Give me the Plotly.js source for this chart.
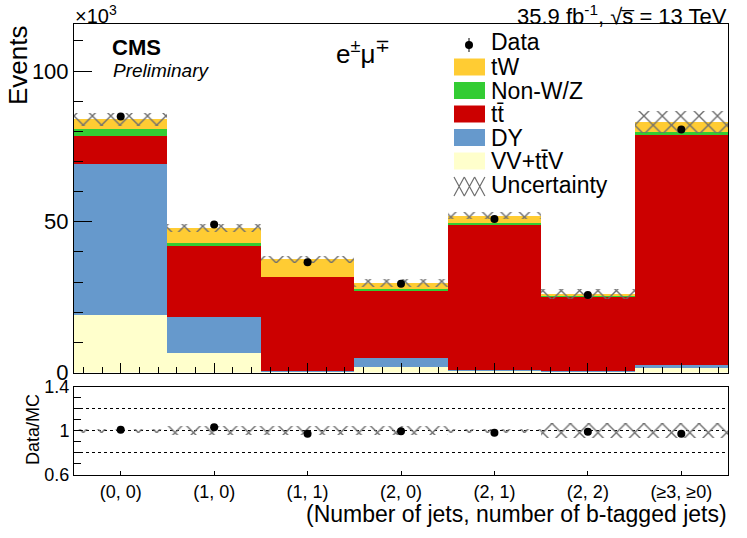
<!DOCTYPE html>
<html>
<head>
<meta charset="utf-8">
<script src="https://cdn.plot.ly/plotly-3.0.1.min.js"></script>
<style>html,body{margin:0;padding:0;background:#fff;}#chart{width:747px;height:538px;}</style>
</head>
<body>
<div id="chart"></div>
<script>
// ---- data (values in units of 10^3 events) ----
const categories = ['(0, 0)', '(1, 0)', '(1, 1)', '(2, 0)', '(2, 1)', '(2, 2)', '(\u22653, \u22650)'];
const vvttv = [19.0, 6.4, 0.3, 1.9, 0.4, 0.2, 1.4];
const dy    = [50.2, 11.9, 0.3, 3.0, 0.3, 0.2, 1.1];
const ttbar = [9.1, 23.7, 31.0, 22.3, 48.3, 24.8, 76.3];
const nonwz = [2.6, 0.9, 0.2, 0.6, 0.5, 0.1, 0.9];
const tw    = [3.1, 5.1, 5.8, 1.8, 2.5, 0.8, 3.3];
const dataVals = [84.9, 49.1, 36.6, 29.4, 50.9, 25.7, 80.6];
const dataErr  = [0.3, 0.2, 0.2, 0.2, 0.2, 0.2, 0.3];
const mcUnc    = [2.2, 1.3, 1.2, 1.3, 1.1, 1.6, 3.6];
const ratioVals = [1.009, 1.033, 0.973, 0.997, 0.982, 0.991, 0.973];
const ratioUnc  = [0.015, 0.04, 0.04, 0.04, 0.015, 0.068, 0.068];

const FONT = 'Liberation Sans, Arial, Helvetica, sans-serif';
const xIdx = categories.map((_, i) => i);

// pixel -> paper helpers (plot area: x 74..728, y 24..475)
const L = 74, R = 19, T = 24, B = 63, W = 747, H = 538;
const PW = W - L - R, PH = H - T - B;
const px = x => (x - L) / PW;
const py = y => (H - B - y) / PH;

const comps = [
  {name: 'VV+tt\u0304V', vals: vvttv, color: '#ffffcc'},
  {name: 'DY', vals: dy, color: '#6699cc'},
  {name: 'tt\u0304', vals: ttbar, color: '#cc0000'},
  {name: 'Non-W/Z', vals: nonwz, color: '#33cc33'},
  {name: 'tW', vals: tw, color: '#ffcc33'}
];

const traces = [];
let cum = categories.map(() => 0);
comps.forEach(c => {
  traces.push({
    type: 'bar', x: xIdx, y: c.vals, base: cum.slice(), width: 1,
    marker: {color: c.color, line: {width: 0}}, name: c.name,
    xaxis: 'x', yaxis: 'y', showlegend: false, hoverinfo: 'skip'
  });
  cum = cum.map((v, i) => v + c.vals[i]);
});
const total = cum;

const hatch = {shape: 'x', fgcolor: '#6e6e6e', bgcolor: 'rgba(0,0,0,0)', size: 13, solidity: 0.2};

traces.push({
  type: 'bar', x: xIdx, y: mcUnc.map(u => 2 * u), base: total.map((t, i) => t - mcUnc[i]), width: 1,
  marker: {color: 'rgba(0,0,0,0)', line: {width: 0}, pattern: hatch},
  xaxis: 'x', yaxis: 'y', showlegend: false, hoverinfo: 'skip'
});

traces.push({
  type: 'scatter', mode: 'markers', x: xIdx, y: dataVals,
  error_y: {type: 'data', array: dataErr, visible: true, color: '#000', thickness: 1, width: 0},
  marker: {color: '#000', size: 8}, xaxis: 'x', yaxis: 'y', showlegend: false, hoverinfo: 'skip'
});

// ratio panel
traces.push({
  type: 'bar', x: xIdx, y: ratioUnc.map(u => 2 * u), base: ratioUnc.map(u => 1 - u), width: 1,
  marker: {color: 'rgba(0,0,0,0)', line: {width: 0}, pattern: hatch},
  xaxis: 'x2', yaxis: 'y2', showlegend: false, hoverinfo: 'skip'
});
traces.push({
  type: 'scatter', mode: 'markers', x: xIdx, y: ratioVals,
  marker: {color: '#000', size: 8}, xaxis: 'x2', yaxis: 'y2', showlegend: false, hoverinfo: 'skip'
});

// ---- custom legend ----
const legendRows = [
  {label: 'Data', y: 42},
  {label: 'tW', y: 67, color: '#ffcc33'},
  {label: 'Non-W/Z', y: 90.5, color: '#33cc33'},
  {label: 'tt\u0304', y: 114, color: '#cc0000'},
  {label: 'DY', y: 137.5, color: '#6699cc'},
  {label: 'VV+tt\u0304V', y: 161, color: '#ffffcc'},
  {label: 'Uncertainty', y: 185, hatch: true}
];

const shapes = [];
const annotations = [];
legendRows.forEach(r => {
  annotations.push({xref: 'paper', yref: 'paper', x: px(489), y: py(r.y), xanchor: 'left', yanchor: 'middle',
    text: r.label, showarrow: false, font: {family: FONT, size: 23, color: '#000'}});
  if (r.color) {
    shapes.push({type: 'rect', xref: 'paper', yref: 'paper', x0: px(454), x1: px(485),
      y0: py(r.y - 8.5), y1: py(r.y + 8.5), fillcolor: r.color, line: {width: 0}});
  }
});
// Data legend marker
shapes.push({type: 'line', xref: 'paper', yref: 'paper', x0: px(469), x1: px(469), y0: py(38), y1: py(52), line: {color: '#000', width: 1}});
shapes.push({type: 'circle', xref: 'paper', yref: 'paper', x0: px(465), x1: px(473), y0: py(41), y1: py(49), fillcolor: '#000', line: {color: '#000', width: 0}});
// Uncertainty legend hatch
let pth = '';
for (let k = 0; k < 3; k++) {
  const a = 454 + k * 10.3, b = a + 10.3;
  pth += `M${px(a)},${py(177)} L${px(b)},${py(196)} M${px(b)},${py(177)} L${px(a)},${py(196)} `;
}
shapes.push({type: 'path', xref: 'paper', yref: 'paper', path: pth, line: {color: '#6e6e6e', width: 1.2}});

// ---- text ----
annotations.push(
  {xref: 'paper', yref: 'paper', x: px(73), y: py(15), xanchor: 'left', yanchor: 'middle', showarrow: false,
   text: '\u00d710<sup>3</sup>', font: {family: FONT, size: 20, color: '#000'}},
  {xref: 'paper', yref: 'paper', x: px(729), y: py(15), xanchor: 'right', yanchor: 'middle', showarrow: false,
   text: '35.9 fb<sup>-1</sup>, \u221as\u0305 = 13 TeV', font: {family: FONT, size: 22, color: '#000'}},
  {xref: 'paper', yref: 'paper', x: px(110), y: py(47), xanchor: 'left', yanchor: 'middle', showarrow: false,
   text: '<b>CMS</b>', font: {family: FONT, size: 22, color: '#000'}},
  {xref: 'paper', yref: 'paper', x: px(111), y: py(70), xanchor: 'left', yanchor: 'middle', showarrow: false,
   text: '<i>Preliminary</i>', font: {family: FONT, size: 19, color: '#000'}},
  {xref: 'paper', yref: 'paper', x: px(334), y: py(52), xanchor: 'left', yanchor: 'middle', showarrow: false,
   text: 'e<sup>\u00b1</sup>\u03bc<sup>\u2213</sup>', font: {family: FONT, size: 26, color: '#000'}},
  {xref: 'paper', yref: 'paper', x: px(18), y: py(65), xanchor: 'center', yanchor: 'middle', showarrow: false,
   textangle: -90, text: 'Events', font: {family: FONT, size: 26, color: '#000'}},
  {xref: 'paper', yref: 'paper', x: px(33), y: py(430), xanchor: 'center', yanchor: 'middle', showarrow: false,
   textangle: -90, text: 'Data/MC', font: {family: FONT, size: 18, color: '#000'}},
  {xref: 'paper', yref: 'paper', x: px(729), y: py(514), xanchor: 'right', yanchor: 'middle', showarrow: false,
   text: '(Number of jets, number of b-tagged jets)', font: {family: FONT, size: 23, color: '#000'}}
);

const axBase = {showline: true, linecolor: '#000', linewidth: 1, mirror: true, zeroline: false,
  showgrid: false, ticks: 'inside', tickcolor: '#000', tickwidth: 1, fixedrange: true, layer: 'above traces'};

const layout = {
  width: W, height: H,
  margin: {l: L, r: R, t: T, b: B, pad: 0},
  paper_bgcolor: '#fff', plot_bgcolor: '#fff',
  barmode: 'overlay', bargap: 0, hovermode: false, showlegend: false,
  font: {family: FONT, color: '#000', size: 22},
  xaxis: Object.assign({}, axBase, {
    domain: [0, 1], anchor: 'y', range: [-0.5, 6.5], tickmode: 'linear', tick0: 0, dtick: 1,
    ticklen: 10, showticklabels: false,
    minor: {tickmode: 'linear', tick0: 0, dtick: 0.2, ticklen: 6, ticks: 'inside', tickcolor: '#000'}
  }),
  yaxis: Object.assign({}, axBase, {
    domain: [py(372.5), 1], anchor: 'x', range: [0, 115.6], tickmode: 'array', tickvals: [0, 50, 100],
    ticktext: ['0', '50', '100'], ticklen: 18,
    tickfont: {family: FONT, size: 22, color: '#000'},
    minor: {tickmode: 'linear', tick0: 0, dtick: 10, ticklen: 9, ticks: 'inside', tickcolor: '#000'}
  }),
  xaxis2: Object.assign({}, axBase, {
    domain: [0, 1], anchor: 'y2', range: [-0.5, 6.5], tickmode: 'array', tickvals: xIdx,
    ticktext: categories, ticklen: 4, tickfont: {family: FONT, size: 18, color: '#000'}
  }),
  yaxis2: Object.assign({}, axBase, {
    domain: [0, py(386.7)], anchor: 'x2', range: [0.6, 1.4], tickmode: 'array',
    tickvals: [0.6, 0.8, 1.0, 1.2, 1.4], ticktext: ['0.6', '', '1', '', '1.4'], ticklen: 8,
    tickfont: {family: FONT, size: 18, color: '#000'},
    showgrid: true, gridcolor: '#000', gridwidth: 1, griddash: 'dot',
    minor: {tickmode: 'linear', tick0: 0.6, dtick: 0.1, ticklen: 7, ticks: 'inside', tickcolor: '#000'}
  }),
  shapes: shapes,
  annotations: annotations
};

Plotly.newPlot('chart', traces, layout, {displayModeBar: false, staticPlot: true});
</script>
</body>
</html>
